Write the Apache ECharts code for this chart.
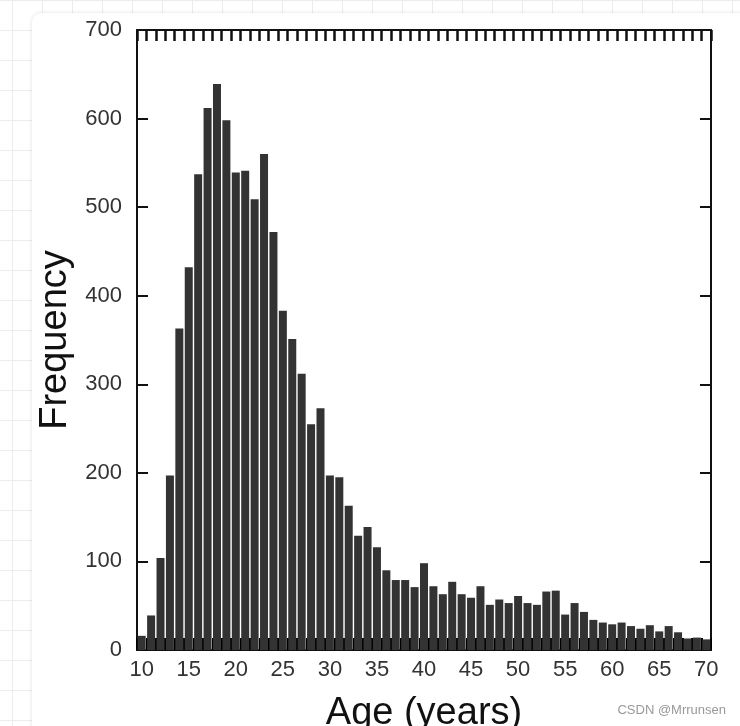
<!DOCTYPE html>
<html>
<head>
<meta charset="utf-8">
<script src="https://cdn.jsdelivr.net/npm/echarts@6/dist/echarts.min.js"></script>
<style>
  html, body { margin: 0; padding: 0; }
  body {
    width: 740px; height: 726px; overflow: hidden; position: relative;
    background-color: #fff;
    background-image:
      linear-gradient(to right, #ececec 1px, transparent 1px),
      linear-gradient(to bottom, #ececec 1px, transparent 1px);
    background-size: 30px 30px;
    background-position: 12px 0px;
  }
  #card {
    position: absolute; left: 32px; top: 13px; width: 760px; height: 760px;
    background: #fff; border-radius: 9px;
    box-shadow: 0 0 4px rgba(0,0,0,0.12);
  }
  #chart { position: absolute; left: 0; top: 0; width: 740px; height: 726px; }
</style>
</head>
<body>
<div id="card"></div>
<div id="chart"></div>
<script>
const ages = ['10','11','12','13','14','15','16','17','18','19','20','21','22','23','24','25','26','27','28','29','30','31','32','33','34','35','36','37','38','39','40','41','42','43','44','45','46','47','48','49','50','51','52','53','54','55','56','57','58','59','60','61','62','63','64','65','66','67','68','69','70'];
const frequency = [16,39,104,197,363,432,537,612,639,598,539,541,509,560,472,383,351,312,255,273,197,195,163,129,139,116,90,79,79,71,98,72,63,77,63,59,72,51,57,53,61,53,51,66,67,40,53,43,34,31,29,31,27,24,28,21,27,20,13,14,12];
const xTitle = 'Age (years)';
const yTitle = 'Frequency';
const watermark = 'CSDN @Mrrunsen';

const chart = echarts.init(document.getElementById('chart'), null, { renderer: 'canvas' });
const lineStyle = { color: '#111', width: 2 };
const font = '"Liberation Sans", Arial, Helvetica, sans-serif';
chart.setOption({
  backgroundColor: 'transparent',
  animation: false,
  grid: { left: 137, right: 29, top: 30, bottom: 76, containLabel: false, outerBoundsMode: 'none' },
  xAxis: [
    {
      type: 'category', data: ages, position: 'bottom',
      axisLine: { show: true, onZero: false, lineStyle: lineStyle },
      axisTick: { show: true, inside: true, interval: 0, length: 12, lineStyle: { color: '#000', width: 2 } },
      axisLabel: { interval: 4, fontSize: 22, color: '#333', fontFamily: font, margin: 9 },
      name: xTitle, nameLocation: 'middle', nameGap: 45,
      nameTextStyle: { fontSize: 38, color: '#111', fontFamily: font, verticalAlign: 'top' }
    },
    {
      type: 'category', data: ages, position: 'top',
      axisLine: { show: true, onZero: false, lineStyle: lineStyle },
      axisTick: { show: true, inside: true, interval: 0, length: 11, lineStyle: { color: '#111', width: 2.5 } },
      axisLabel: { show: false }
    }
  ],
  yAxis: [
    {
      type: 'value', min: 0, max: 700, interval: 100, position: 'left',
      axisLine: { show: true, onZero: false, lineStyle: lineStyle },
      axisTick: { show: true, inside: true, length: 11, lineStyle: { color: '#111', width: 2 } },
      axisLabel: { fontSize: 22, color: '#333', fontFamily: font, margin: 15 },
      splitLine: { show: false },
      name: yTitle, nameLocation: 'middle', nameGap: 62, nameRotate: 90,
      nameTextStyle: { fontSize: 38, color: '#111', fontFamily: font }
    },
    {
      type: 'value', min: 0, max: 700, interval: 100, position: 'right',
      axisLine: { show: true, onZero: false, lineStyle: lineStyle },
      axisTick: { show: true, inside: true, length: 11, lineStyle: { color: '#111', width: 2 } },
      axisLabel: { show: false },
      splitLine: { show: false }
    }
  ],
  series: [{
    type: 'bar', data: frequency, xAxisIndex: 0, yAxisIndex: 0,
    barCategoryGap: '15%',
    itemStyle: { color: '#333' },
    z: 1
  }],
  graphic: [{
    type: 'text', right: 14, top: 704,
    style: { text: watermark, fill: '#999', fontSize: 13, fontFamily: font }
  }]
});
</script>
</body>
</html>
